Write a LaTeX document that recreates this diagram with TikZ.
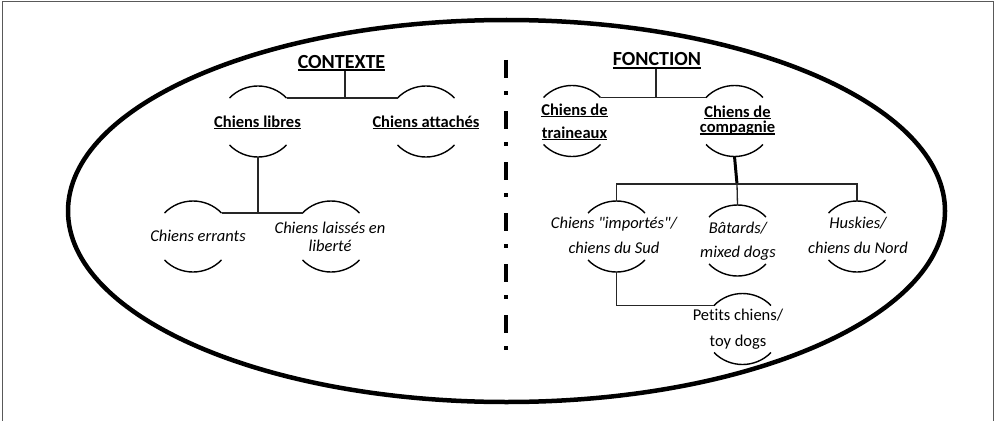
\documentclass[tikz,border=0pt]{standalone}
\usepackage{fontspec}
\setmainfont{Carlito}[Ligatures={TeXOff,NoCommon}]
\usetikzlibrary{calc}
\newcommand\ulwd[1]{\setbox0=\hbox{#1}\rlap{\rule[-0.13em]{\wd0}{0.07em}}\box0}
\newcommand\twoline[3]{\vtop{\baselineskip=#3\relax\lineskiplimit=-100pt\halign{\hfil##\hfil\cr#1\cr#2\cr}}}
\newcommand\arcframe[3]{%
 \coordinate (#1) at (#2,#3);
 \coordinate (#1-tl) at ($(#1)+(-28.5,-23.5)$);
 \coordinate (#1-tr) at ($(#1)+(28.5,-23.5)$);
 \coordinate (#1-bl) at ($(#1)+(-28.5,23.5)$);
 \coordinate (#1-br) at ($(#1)+(28.5,23.5)$);
 \coordinate (#1-t) at ($(#1)+(0,-35.5)$);
 \coordinate (#1-b) at ($(#1)+(0,35.5)$);
 \draw[arcline] (#1-tl) .. controls +(15.6,-16) and +(-15.6,-16) .. (#1-tr);
 \draw[arcline] (#1-bl) .. controls +(15.6,16) and +(-15.6,16) .. (#1-br);}
\tikzset{
 arcline/.style={line width=1.4pt, black},
 conn/.style={line width=1.3pt, black!85},
 thickconn/.style={line width=3pt, black},
 txt/.style={inner sep=0.5pt, anchor=base},
 head/.style={txt, font=\fontsize{20}{24}\selectfont\bfseries},
 bold/.style={txt, font=\fontsize{16.5}{20}\selectfont\bfseries},
 ital/.style={txt, font=\fontsize{16.5}{20}\selectfont\itshape},
 regl/.style={txt, font=\fontsize{16.5}{20}\selectfont},
 frame/.style={line width=1pt, black!65},
}
\begin{document}
\begin{tikzpicture}[x=1pt,y=-1pt]
\useasboundingbox (0,0) rectangle (995,420);
\draw[frame] (2,421) -- (2,2) -- (993,2) -- (993,421);
% outer ellipse
\draw[line width=4.5pt] (506.5,211) ellipse [x radius=438.5pt, y radius=191pt];
% separator
\draw[line width=4.2pt, dash pattern=on 18pt off 13pt on 4pt off 16pt] (506,60) -- (506,350);

% ---------- left: CONTEXTE ----------
\node[head] (ctx) at (341.5,68) {\ulwd{CONTEXTE}};
\node[bold] (libres) at (257.5,127) {\ulwd{Chiens libres}};
\node[bold] (attaches) at (426,127) {\ulwd{Chiens attachés}};
\node[ital] (errants) at (198,241) {Chiens errants};
\node[ital] (laisses) at (330,233) {\twoline{Chiens laissés en}{liberté}{18pt}};
\arcframe{flibres}{258}{121.5}
\arcframe{fattaches}{426}{121.5}
\arcframe{ferrants}{193}{236.5}
\arcframe{flaisses}{331}{236.5}
\coordinate (ctxj) at (345,98);
\draw[conn] (ctx.south -| ctxj) -- (ctxj);
\draw[conn] (flibres-tr) -- (fattaches-tl);
\draw[conn] (flibres-b) -- (flibres-b |- ferrants-tr);
\draw[conn] (ferrants-tr) -- (flaisses-tl);

% ---------- right: FONCTION ----------
\node[head] (fnc) at (657,66) {\ulwd{FONCTION}};
\node[bold] (traineaux) at (574.5,115) {\twoline{\ulwd{Chiens de}}{\ulwd{traineaux}}{23pt}};
\node[bold] (compagnie) at (737.5,117) {\twoline{\ulwd{Chiens de}}{\ulwd{compagnie}}{15.5pt}};
\node[ital] (importes) at (614,228) {\twoline{Chiens "importés"/}{chiens du Sud}{25pt}};
\node[ital] (batards) at (738,233) {\twoline{Bâtards/}{mixed dogs}{24pt}};
\node[ital] (huskies) at (858,228) {\twoline{Huskies/}{chiens du Nord}{25pt}};
\node[regl] (petits) at (738,320) {\twoline{Petits chiens/}{toy dogs}{26pt}};
\arcframe{ftraineaux}{572}{121}
\arcframe{fcompagnie}{734.5}{121}
\arcframe{fimportes}{616.5}{236.5}
\arcframe{fbatards}{737.5}{240.5}
\arcframe{fhuskies}{857}{236.5}
\arcframe{fpetits}{742.5}{329}
\coordinate (fncj) at (656,98);
\coordinate (fbar) at (737,184);
\draw[conn] (fnc.south -| fncj) -- (fncj);
\draw[conn] (ftraineaux-tr) -- (fcompagnie-tl);
\draw[thickconn] (fcompagnie-b) -- (fbar);
\draw[conn] (fimportes-t) |- (fbar) -| (fhuskies-t);
\draw[conn] (fbar) -- (fbatards-t);
\draw[conn] (fimportes-b) |- (fpetits-tl);
\end{tikzpicture}
\end{document}
